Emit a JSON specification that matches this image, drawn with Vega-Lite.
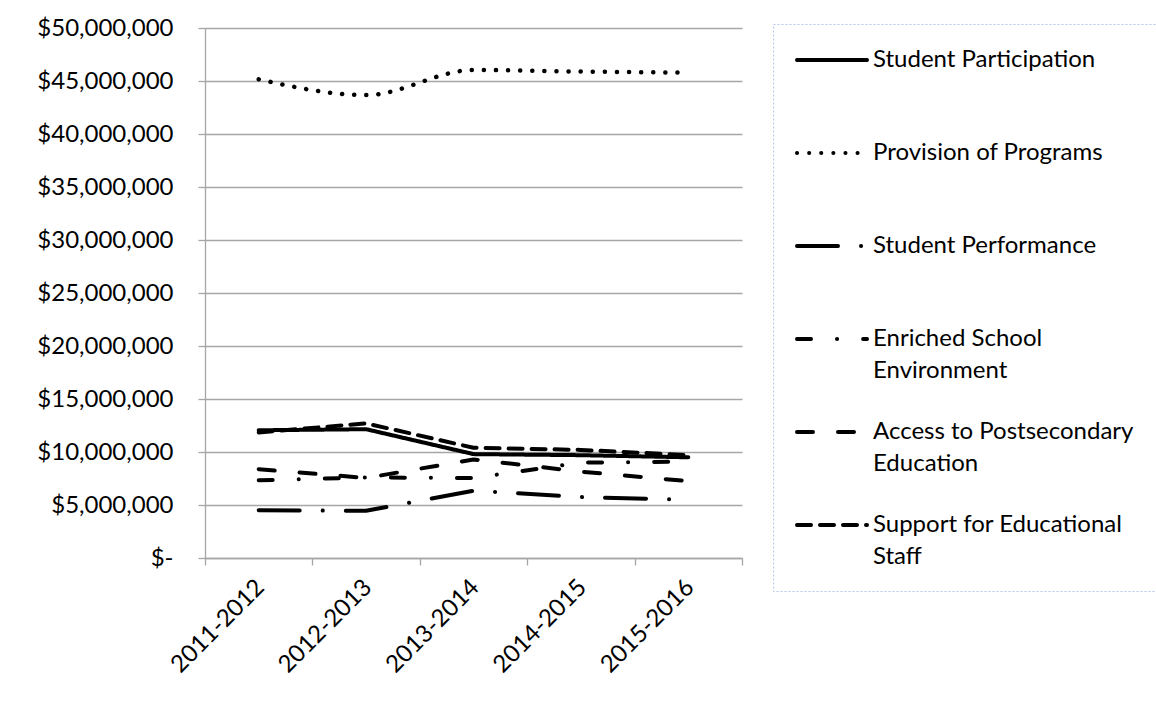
{
  "$schema": "https://vega.github.io/schema/vega-lite/v6.json",
  "width": 537,
  "height": 530,
  "autosize": {"type": "none"},
  "padding": {"left": 205, "top": 28, "right": 414, "bottom": 144},
  "background": "white",
  "config": {
    "view": {"stroke": null},
    "font": "Lato"
  },
  "data": {
    "values": [
      {"year": "2011-2012", "series": "Student Participation", "value": 12050000},
      {"year": "2012-2013", "series": "Student Participation", "value": 12150000},
      {"year": "2013-2014", "series": "Student Participation", "value": 9800000},
      {"year": "2014-2015", "series": "Student Participation", "value": 9700000},
      {"year": "2015-2016", "series": "Student Participation", "value": 9500000},
      {"year": "2011-2012", "series": "Provision of Programs", "value": 45160000},
      {"year": "2012-2013", "series": "Provision of Programs", "value": 43670000},
      {"year": "2013-2014", "series": "Provision of Programs", "value": 46040000},
      {"year": "2014-2015", "series": "Provision of Programs", "value": 45890000},
      {"year": "2015-2016", "series": "Provision of Programs", "value": 45790000},
      {"year": "2011-2012", "series": "Student Performance", "value": 4500000},
      {"year": "2012-2013", "series": "Student Performance", "value": 4450000},
      {"year": "2013-2014", "series": "Student Performance", "value": 6350000},
      {"year": "2014-2015", "series": "Student Performance", "value": 5750000},
      {"year": "2015-2016", "series": "Student Performance", "value": 5500000},
      {"year": "2011-2012", "series": "Enriched School Environment", "value": 7330000},
      {"year": "2012-2013", "series": "Enriched School Environment", "value": 7600000},
      {"year": "2013-2014", "series": "Enriched School Environment", "value": 7550000},
      {"year": "2014-2015", "series": "Enriched School Environment", "value": 9000000},
      {"year": "2015-2016", "series": "Enriched School Environment", "value": 9100000},
      {"year": "2011-2012", "series": "Access to Postsecondary Education", "value": 8380000},
      {"year": "2012-2013", "series": "Access to Postsecondary Education", "value": 7550000},
      {"year": "2013-2014", "series": "Access to Postsecondary Education", "value": 9300000},
      {"year": "2014-2015", "series": "Access to Postsecondary Education", "value": 8150000},
      {"year": "2015-2016", "series": "Access to Postsecondary Education", "value": 7250000},
      {"year": "2011-2012", "series": "Support for Educational Staff", "value": 11850000},
      {"year": "2012-2013", "series": "Support for Educational Staff", "value": 12700000},
      {"year": "2013-2014", "series": "Support for Educational Staff", "value": 10400000},
      {"year": "2014-2015", "series": "Support for Educational Staff", "value": 10200000},
      {"year": "2015-2016", "series": "Support for Educational Staff", "value": 9700000}
    ]
  },
  "encoding": {
    "x": {
      "field": "year",
      "type": "ordinal",
      "sort": ["2011-2012", "2012-2013", "2013-2014", "2014-2015", "2015-2016"],
      "scale": {"type": "band", "paddingInner": 0, "paddingOuter": 0},
      "axis": {
        "title": null,
        "labelAngle": -45,
        "tickBand": "extent",
        "grid": false,
        "tickSize": 7,
        "tickColor": "#a6a6a6",
        "tickWidth": 1.3,
        "domainColor": "#a6a6a6",
        "domainWidth": 1.3,
        "labelFont": "Lato",
        "labelFontSize": 24,
        "labelColor": "black",
        "labelPadding": 10,
        "labelOffset": -7
      }
    },
    "y": {
      "field": "value",
      "type": "quantitative",
      "scale": {"domain": [0, 50000000], "nice": false},
      "axis": {
        "title": null,
        "values": [0, 5000000, 10000000, 15000000, 20000000, 25000000, 30000000, 35000000, 40000000, 45000000, 50000000],
        "labelExpr": "datum.value == 0 ? '$-' : '$' + format(datum.value, ',')",
        "grid": true,
        "gridColor": "#a6a6a6",
        "gridWidth": 1.3,
        "tickSize": 7,
        "tickColor": "#a6a6a6",
        "tickWidth": 1.3,
        "domainColor": "#a6a6a6",
        "domainWidth": 1.3,
        "labelFont": "Lato",
        "labelFontSize": 24,
        "labelColor": "black",
        "labelPadding": 25
      }
    },
    "strokeDash": {
      "field": "series",
      "type": "nominal",
      "scale": {
        "domain": ["Student Participation", "Provision of Programs", "Student Performance", "Enriched School Environment", "Access to Postsecondary Education", "Support for Educational Staff"],
        "range": [[1, 0], [0.1, 12], [41, 23, 0.1, 23], [14, 26, 0.1, 26], [16, 25], [14, 9]]
      },
      "legend": {
        "title": null,
        "orient": "none",
        "legendX": 568,
        "legendY": -4,
        "symbolType": "stroke",
        "symbolSize": 4900,
        "symbolStrokeWidth": 4,
        "symbolStrokeColor": "black",
        "labelFont": "Lato",
        "labelFontSize": 24,
        "labelColor": "black",
        "labelOffset": 4,
        "labelLimit": 0,
        "rowPadding": 35,
        "padding": 22,
        "strokeColor": "#b4c7e7",
        "fillColor": "white",
        "labelBaseline": "middle",
        "labelExpr": "datum.label == 'Enriched School Environment' ? ['Enriched School', 'Environment'] : datum.label == 'Access to Postsecondary Education' ? ['Access to Postsecondary', 'Education'] : datum.label == 'Support for Educational Staff' ? ['Support for Educational', 'Staff'] : [datum.label, '']",
        "encode": {
          "labels": {"update": {"lineHeight": {"value": 32}, "y": {"value": 14}}},
          "symbols": {"update": {"strokeCap": {"value": "round"}, "y": {"value": 14}}},
          "legend": {"update": {"strokeDash": {"value": [2, 2]}}}
        }
      }
    }
  },
  "layer": [
    {
      "transform": [{"filter": "datum.series != 'Provision of Programs'"}],
      "mark": {"type": "line", "color": "black", "strokeWidth": 4, "strokeCap": "round", "strokeJoin": "round"}
    },
    {
      "transform": [{"filter": "datum.series == 'Provision of Programs'"}],
      "mark": {"type": "line", "color": "black", "strokeWidth": 4.5, "strokeCap": "round", "interpolate": "monotone"}
    }
  ]
}
